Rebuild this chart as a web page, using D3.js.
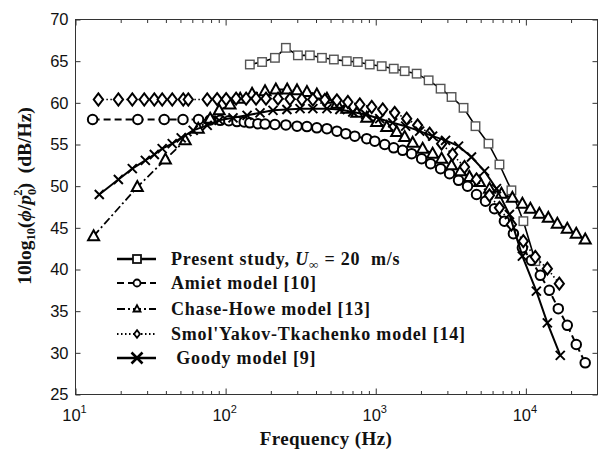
<!DOCTYPE html>
<html>
<head>
<meta charset="utf-8">
<script src="https://cdn.jsdelivr.net/npm/d3@7"></script>
<style>
  body { margin: 0; background: #fff; }
  svg { display: block; }
</style>
</head>
<body>
<svg id="chart" width="598" height="451"></svg>
<script>
// Wall-pressure spectra, 10 log10(phi/p0^2) in dB/Hz against frequency in Hz

// Present study, U = 20 m/s
const presentFreq  = [145, 175, 213, 252, 303, 364, 438, 526, 641, 759, 912, 1096, 1318, 1559, 1873, 2250, 2704, 3199, 3845, 4618, 5636, 6668, 8011, 9624, 11560];
const presentLevel = [64.6, 64.9, 65.4, 66.6, 65.7, 65.7, 65.4, 65.2, 65.0, 64.9, 64.6, 64.4, 64.1, 63.8, 63.5, 62.7, 61.7, 60.7, 59.4, 57.2, 55.1, 52.6, 49.5, 45.8, 41.0];

// Amiet model [10]
const amietFreq  = [13, 26, 39, 52, 66, 79, 92, 105, 119, 133, 145, 164, 183, 213, 252, 299, 348, 405, 473, 551, 632, 725, 871, 985, 1148, 1317, 1510, 1734, 2021, 2320, 2704, 3102, 3560, 4085, 4690, 5383, 6176, 7194, 8260, 9480, 10877, 12480, 14320, 16440, 18870, 21660, 24840];
const amietLevel = [58.0, 58.0, 58.0, 58.0, 58.0, 57.95, 57.9, 57.85, 57.75, 57.7, 57.6, 57.5, 57.45, 57.4, 57.35, 57.2, 57.15, 57.0, 56.9, 56.6, 56.3, 56.0, 55.7, 55.4, 55.0, 54.6, 54.3, 53.9, 53.3, 52.7, 52.1, 51.5, 50.7, 50.0, 49.0, 48.2, 47.3, 45.8, 44.3, 42.6, 41.1, 39.3, 37.5, 35.3, 33.3, 31.0, 28.8];

// Chase-Howe model [13]
const chaseFreq  = [13.2, 25.8, 39.7, 53.8, 65.7, 78.9, 90.6, 107, 125, 150, 183, 216, 257, 299, 348, 405, 473, 551, 641, 748, 871, 1014, 1183, 1379, 1558, 1762, 2053, 2392, 2745, 3199, 3671, 4212, 4910, 5722, 6874, 8133, 9478, 10713, 12295, 14113, 16194, 18866, 21649, 24850];
const chaseLevel = [44.0, 49.9, 53.2, 55.5, 56.9, 58.1, 59.1, 59.8, 60.5, 61.1, 61.4, 61.6, 61.6, 61.5, 61.3, 61.0, 60.5, 59.9, 59.3, 58.8, 58.2, 57.7, 57.1, 56.5, 55.9, 55.2, 54.5, 53.9, 53.3, 52.5, 51.8, 51.1, 50.5, 49.7, 49.1, 48.6, 47.9, 47.3, 46.7, 46.2, 45.5, 44.9, 44.3, 43.6];

// Smol'Yakov-Tkachenko model [14]
const smolFreq  = [14.2, 19.3, 23.9, 28.7, 33.5, 37.8, 44.1, 52.2, 56.4, 75.4, 87.8, 100.8, 117.4, 136.9, 159.5, 185.8, 223.4, 268.3, 322, 381, 458, 551, 652, 783, 940, 1113, 1337, 1607, 1901, 2285, 2745, 3249, 3900, 4690, 5722, 6668, 8012, 9616, 11560, 13900, 16700];
const smolLevel = [60.4, 60.4, 60.4, 60.4, 60.4, 60.4, 60.4, 60.4, 60.4, 60.4, 60.45, 60.45, 60.5, 60.5, 60.5, 60.5, 60.5, 60.45, 60.4, 60.4, 60.35, 60.3, 60.1, 59.8, 59.5, 59.2, 58.8, 58.1, 57.3, 56.3, 55.1, 53.8, 52.3, 50.8, 48.9, 47.4, 45.4, 43.4, 41.5, 40.1, 38.3];

// Goody model [9]
const goodyFreq  = [14.4, 19.3, 23.9, 29.2, 33.5, 37.8, 44.1, 50.6, 60.8, 75.4, 90.5, 112, 139, 169.5, 206.8, 256, 313, 381, 473, 577, 703, 858, 1063, 1297, 1582, 1961, 2392, 2918, 3560, 4343, 5302, 6368, 7770, 9478, 11745, 13900, 16950];
const goodyLevel = [49.0, 50.8, 52.1, 53.1, 53.8, 54.5, 55.1, 55.8, 56.7, 57.3, 57.9, 58.2, 58.5, 58.8, 59.1, 59.2, 59.3, 59.3, 59.3, 59.2, 58.9, 58.6, 58.1, 57.6, 57.2, 56.6, 56.0, 55.5, 54.8, 53.5, 51.8, 49.7, 46.6, 41.6, 37.4, 33.6, 29.7];

// Axis ticks
const yTicks = [25, 30, 35, 40, 45, 50, 55, 60, 65, 70];
const xDecades = [10, 100, 1000, 10000];
const xDecadeExponents = ["1", "2", "3", "4"];

const legendLabels = ["Present study, ", "Amiet model [10]", "Chase-Howe model [13]", "Smol'Yakov-Tkachenko model [14]", " Goody model [9]"];

const svg = d3.select("#chart");
const plot = { left: 75.5, right: 597.5, top: 19.5, bottom: 394.5 };

const x = d3.scaleLog().domain([10, 30000]).range([plot.left, plot.right]);
const y = d3.scaleLinear().domain([25, 70]).range([plot.bottom, plot.top]);

const axisColor = "#333";
const serif = "Liberation Serif, Times New Roman, serif";
const sans = "Liberation Sans, Arial, sans-serif";

// Minor ticks for the log axis: 2..9 in each decade
const xMinor = [];
[10, 100, 1000, 10000].forEach(d => {
  for (let k = 2; k <= 9; k++) { const v = d * k; if (v <= 30000) xMinor.push(v); }
});

function styleAxis(g) {
  g.select(".domain").remove();
  g.selectAll(".tick line").attr("stroke", axisColor).attr("stroke-width", 1);
  g.selectAll(".tick text").remove();
}

// Bottom / top ticks (pointing inward)
svg.append("g").attr("transform", `translate(0,${plot.bottom})`)
  .call(d3.axisBottom(x).tickValues(xDecades).tickSize(-6)).call(styleAxis);
svg.append("g").attr("transform", `translate(0,${plot.bottom})`)
  .call(d3.axisBottom(x).tickValues(xMinor).tickSize(-3.5)).call(styleAxis);
svg.append("g").attr("transform", `translate(0,${plot.top})`)
  .call(d3.axisTop(x).tickValues(xDecades).tickSize(-6)).call(styleAxis);
svg.append("g").attr("transform", `translate(0,${plot.top})`)
  .call(d3.axisTop(x).tickValues(xMinor).tickSize(-3.5)).call(styleAxis);

// Left / right ticks
svg.append("g").attr("transform", `translate(${plot.left},0)`)
  .call(d3.axisLeft(y).tickValues(yTicks).tickSize(-5)).call(styleAxis);
svg.append("g").attr("transform", `translate(${plot.right},0)`)
  .call(d3.axisRight(y).tickValues(yTicks).tickSize(-5)).call(styleAxis);

// Frame
svg.append("rect")
  .attr("x", plot.left).attr("y", plot.top)
  .attr("width", plot.right - plot.left).attr("height", plot.bottom - plot.top)
  .attr("fill", "none").attr("stroke", axisColor).attr("stroke-width", 1);

// Y tick labels
svg.append("g").selectAll("text").data(yTicks).join("text")
  .attr("x", plot.left - 7).attr("y", d => y(d)).attr("dy", "0.36em")
  .attr("text-anchor", "end")
  .attr("font-family", sans).attr("font-size", 16.5)
  .attr("fill", "#111")
  .text(d => d);

// X tick labels: 10 with superscript exponent
const xl = svg.append("g").selectAll("text").data(xDecades).join("text")
  .attr("x", d => x(d) - 1).attr("y", 421)
  .attr("text-anchor", "middle")
  .attr("font-family", sans).attr("font-size", 16.5)
  .attr("fill", "#111");
xl.append("tspan").text("10");
xl.append("tspan").attr("dy", -8).attr("font-size", 11).text((d, i) => xDecadeExponents[i]);

// Axis titles
svg.append("text")
  .attr("x", 326).attr("y", 445)
  .attr("text-anchor", "middle")
  .attr("font-family", serif)
  .attr("font-weight", "bold").attr("font-size", 19)
  .attr("letter-spacing", 0.4)
  .attr("fill", "#111")
  .text("Frequency (Hz)");

const yl = svg.append("text")
  .attr("transform", "translate(31,196) rotate(-90)")
  .attr("text-anchor", "middle")
  .attr("font-family", serif)
  .attr("font-weight", "bold").attr("font-size", 19.5)
  .attr("fill", "#111");
yl.append("tspan").text("10log");
yl.append("tspan").attr("dy", 4).attr("font-size", 12.5).text("10");
yl.append("tspan").attr("dy", -4).text("(");
yl.append("tspan").attr("font-style", "italic").text("ϕ");
yl.append("tspan").text("/");
yl.append("tspan").attr("font-style", "italic").text("p");
yl.append("tspan").attr("dy", 5).attr("font-size", 12.5).text("0");
yl.append("tspan").attr("dy", -14).attr("dx", -7).attr("font-size", 12.5).text("2");
yl.append("tspan").attr("dy", 9).text(")");
yl.append("tspan").text("\u2002(dB/Hz)");

// Marker shapes
function drawMarker(g, kind, cx, cy, s, legend) {
  const sw = legend ? 1.8 : 2;
  if (kind === "square") {
    g.append("rect").attr("x", cx - s / 2).attr("y", cy - s / 2).attr("width", s).attr("height", s)
      .attr("fill", "#fff").attr("stroke", legend ? "#111" : "#555").attr("stroke-width", legend ? 1.8 : 1.4);
  } else if (kind === "circle") {
    g.append("circle").attr("cx", cx).attr("cy", cy).attr("r", s / 2)
      .attr("fill", "#fff").attr("stroke", "#000").attr("stroke-width", sw);
  } else if (kind === "triangle") {
    const h = s * 0.9;
    g.append("path").attr("d", `M${cx},${cy - h * 0.6}L${cx + s / 2},${cy + h * 0.4}L${cx - s / 2},${cy + h * 0.4}Z`)
      .attr("fill", "#fff").attr("stroke", "#000").attr("stroke-width", sw).attr("stroke-linejoin", "miter");
  } else if (kind === "diamond") {
    const w = s * 0.42, hh = s * 0.55;
    g.append("path").attr("d", `M${cx},${cy - hh}L${cx + w},${cy}L${cx},${cy + hh}L${cx - w},${cy}Z`)
      .attr("fill", "#fff").attr("stroke", "#000").attr("stroke-width", sw);
  } else if (kind === "cross") {
    const a = s / 2;
    g.append("path").attr("d", `M${cx - a},${cy - a}L${cx + a},${cy + a}M${cx - a},${cy + a}L${cx + a},${cy - a}`)
      .attr("stroke", "#000").attr("stroke-width", legend ? 2.6 : 2).attr("fill", "none");
  }
}

const series = [
  { f: presentFreq, v: presentLevel, marker: "square",   size: 8.5, dash: null,      width: 1.6 },
  { f: amietFreq,   v: amietLevel,   marker: "circle",   size: 9.5, dash: "7,4",     width: 2 },
  { f: chaseFreq,   v: chaseLevel,   marker: "triangle", size: 11,  dash: "8,3,2,3", width: 1.8 },
  { f: smolFreq,    v: smolLevel,    marker: "diamond",  size: 11,  dash: "1.5,2.5", width: 1.6 },
  { f: goodyFreq,   v: goodyLevel,   marker: "cross",    size: 9,   dash: null,      width: 2 }
];

const line = d3.line().x(d => x(d[0])).y(d => y(d[1]));

series.forEach(s => {
  const pts = s.f.map((f, i) => [f, s.v[i]]);
  const g = svg.append("g");
  g.append("path").attr("d", line(pts))
    .attr("fill", "none").attr("stroke", "#000").attr("stroke-width", s.width)
    .attr("stroke-dasharray", s.dash);
  pts.forEach(p => drawMarker(g, s.marker, x(p[0]), y(p[1]), s.size, false));
});

// Legend
const legendRows = [259, 283, 309, 334, 358];
const lg = svg.append("g");
series.forEach((s, i) => {
  const ly = legendRows[i];
  lg.append("line").attr("x1", 117).attr("x2", 156).attr("y1", ly).attr("y2", ly)
    .attr("stroke", "#000").attr("stroke-width", i === 0 || i === 4 ? 2.6 : 2)
    .attr("stroke-dasharray", s.dash);
  const lsize = s.marker === "cross" ? 11 : (s.marker === "square" ? 8 : 7);
  drawMarker(lg, s.marker, 137, ly, lsize, true);
  const t = lg.append("text")
    .attr("x", 171).attr("y", ly + 6)
    .attr("font-family", serif)
    .attr("font-weight", "bold").attr("font-size", 18)
    .attr("letter-spacing", 0.8)
    .attr("fill", "#111")
    .attr("xml:space", "preserve")
    .text(legendLabels[i]);
  if (i === 0) {
    t.append("tspan").attr("font-style", "italic").text("U");
    t.append("tspan").attr("dy", 4).attr("font-size", 13).text("∞");
    t.append("tspan").attr("dy", -4).text(" = 20  m/s");
  }
});
</script>
</body>
</html>
